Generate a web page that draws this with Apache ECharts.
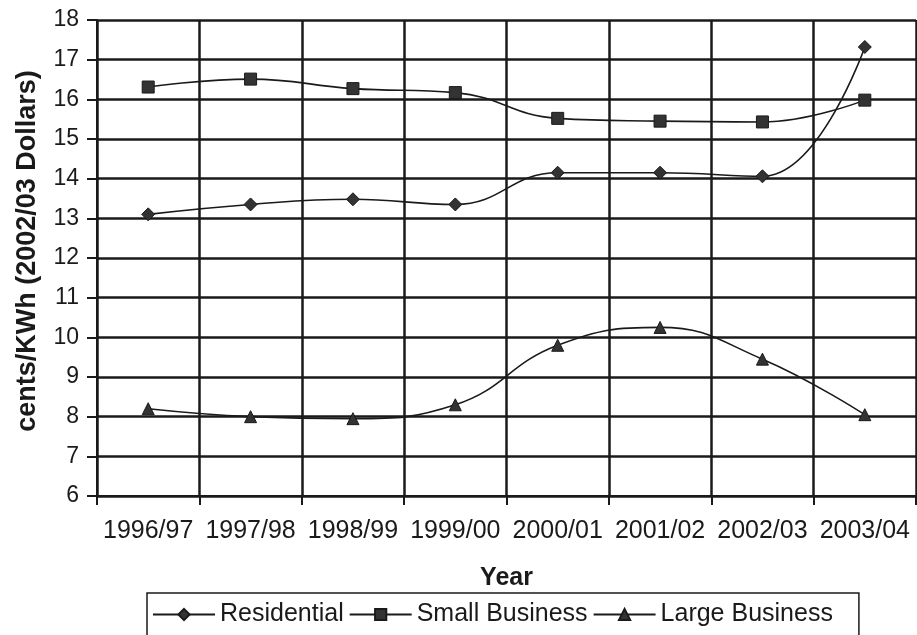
<!DOCTYPE html>
<html><head><meta charset="utf-8">
<script src="https://cdn.jsdelivr.net/npm/echarts@6/dist/echarts.min.js"></script>
<style>html,body{margin:0;padding:0;background:#fff}#c{width:917px;height:635px}</style>
</head><body><div id="c"></div>
<script>
const years = ['1996/97','1997/98','1998/99','1999/00','2000/01','2001/02','2002/03','2003/04'];
const residential = [13.1, 13.35, 13.48, 13.35, 14.15, 14.15, 14.06, 17.32];
const smallBusiness = [16.31, 16.51, 16.27, 16.17, 15.52, 15.45, 15.43, 15.98];
const largeBusiness = [8.2, 8.0, 7.95, 8.3, 9.8, 10.25, 9.45, 8.05];
const seriesNames = ['Residential','Small Business','Large Business'];
const yTicks = {min: 6, max: 18, interval: 1};

const ink = '#1a1a1a';
const font = 'Liberation Sans, Arial, sans-serif';
function mk(name, data, symbol, size){
  return {name, type:'line', data, smooth:0.45, symbol, symbolSize:size,
    lineStyle:{color:ink, width:1.6}, itemStyle:{color:'#333', borderColor:ink, borderWidth:1},
    emphasis:{disabled:true}};
}
const chart = echarts.init(document.getElementById('c'));
chart.setOption({
  animation:false,
  backgroundColor:'#fff',
  grid:{left:97, right:1, top:20, bottom:139},
  xAxis:{type:'category', data:years, boundaryGap:true,
    name:'Year', nameLocation:'middle', nameGap:70,
    nameTextStyle:{fontFamily:font, fontSize:25, fontWeight:'bold', color:ink},
    axisLine:{lineStyle:{color:ink, width:2}},
    axisTick:{show:true, interval:0, length:9, lineStyle:{color:ink, width:2}},
    axisLabel:{interval:0, margin:23, fontFamily:font, fontSize:25, color:ink},
    splitLine:{show:true, interval:0, lineStyle:{color:ink, width:2.5}}},
  yAxis:{type:'value', min:yTicks.min, max:yTicks.max, interval:yTicks.interval,
    name:'cents/KWh (2002/03 Dollars)', nameLocation:'middle', nameGap:56,
    nameTextStyle:{fontFamily:font, fontSize:27, fontWeight:'bold', color:ink, padding:[0,0,0,14]},
    axisLine:{show:true, lineStyle:{color:ink, width:2}},
    axisTick:{show:true, length:10, lineStyle:{color:ink, width:2}},
    axisLabel:{margin:18, fontFamily:font, fontSize:23, color:ink},
    splitLine:{show:true, lineStyle:{color:ink, width:2.5}}},
  legend:{data:seriesNames, left:147, top:593,
    itemWidth:62, itemHeight:14, itemGap:5,
    padding:[9,26,30,5], borderColor:ink, borderWidth:1.5,
    textStyle:{fontFamily:font, fontSize:25, color:ink}},
  series:[
    mk(seriesNames[0], residential, 'diamond', 13),
    mk(seriesNames[1], smallBusiness, 'rect', 12),
    mk(seriesNames[2], largeBusiness, 'triangle', 12)
  ]
});
</script></body></html>
